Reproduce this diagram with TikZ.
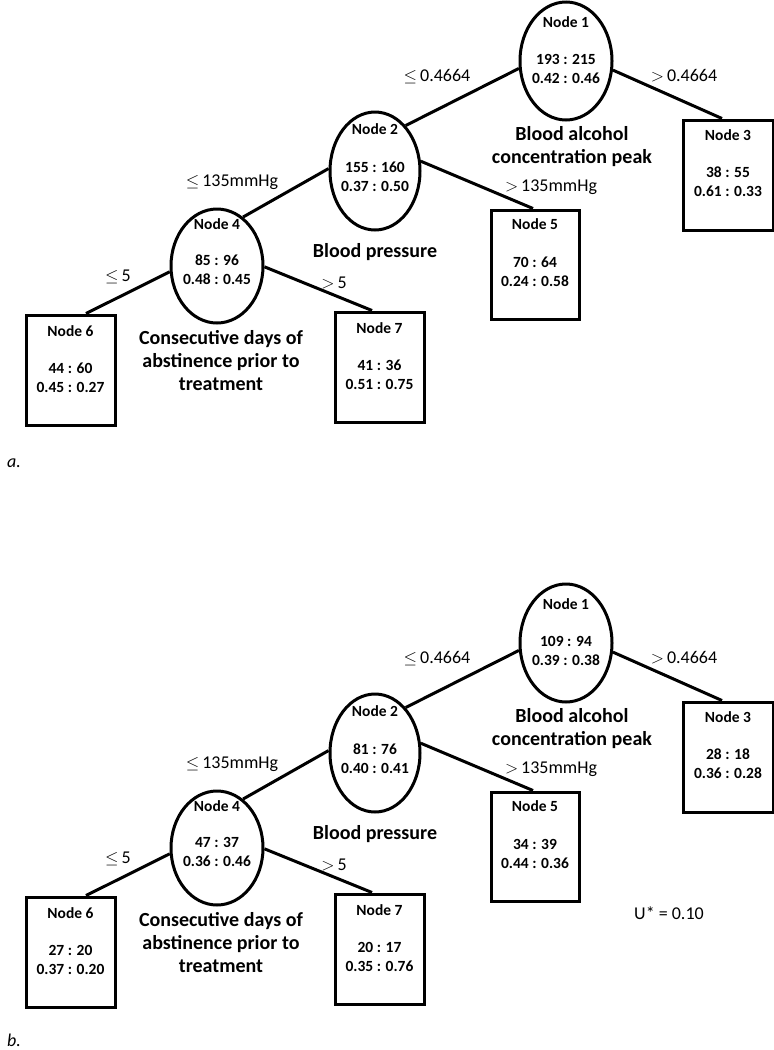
\documentclass[tikz,border=0pt]{standalone}
\usepackage{fontspec}
\setmainfont{Carlito}
\usetikzlibrary{shapes.geometric,calc}
\tikzset{
  ell/.style={ellipse,draw,line width=3pt,inner sep=0pt},
  box/.style={rectangle,draw,line width=3pt,inner sep=0pt},
  ntext/.style={inner sep=0pt,align=center,font=\fontsize{15.5}{19}\selectfont\bfseries},
  vtext/.style={inner sep=0pt,align=center,font=\fontsize{20}{23}\selectfont\bfseries},
  etext/.style={inner sep=0pt,font=\fontsize{18}{22}\selectfont},
  conn/.style={line width=3pt},
}
\newcommand\tnode[8]{%
  \node[#2] (#1) at (#3,#4) {};
  \node[ntext] (#1t) at (#3,#6) {#5};
  \node[ntext] (#1n) at (#3,#8) {#7};}
\newcommand\edges[1]{%
  \draw[conn] (#11.189) -- (#12.56);
  \draw[conn] (#11.-11) -- ($(#13.north)+(-6,0)$);
  \draw[conn] (#12.177) -- (#14.62);
  \draw[conn] (#12.12) -- ($(#15.north)+(-2,0)$);
  \draw[conn] (#14.187) -- ($(#16.north)+(15.5,0)$);
  \draw[conn] (#14.-1) -- ($(#17.north)+(-7.5,0)$);
  \node[etext] (#1l1) at (437,77) {$\leq$\,0.4664};
  \node[etext] (#1l2) at (684,76) {$>$\,0.4664};
  \node[etext] (#1l3) at (232,182) {$\leq$\,135mmHg};
  \node[etext] (#1l4) at (551,187) {$>$\,135mmHg};
  \node[etext] (#1l5) at (118,277) {$\leq$\,5};
  \node[etext] (#1l6) at (334,283) {$>$\,5};
  \node[vtext] (#1v1) at (572,146.5) {Blood alcohol\\concentration peak};
  \node[vtext] (#1v2) at (375,252) {Blood pressure};
  \node[vtext] (#1v3) at (221,361) {Consecutive days of\\abstinence prior to\\treatment};}
\begin{document}
\begin{tikzpicture}[x=1pt,y=-1pt]
\useasboundingbox (0,0) rectangle (774,1050);
% panel a
\tnode{a1}{ell,minimum width=92pt,minimum height=118pt}{566}{61}{Node 1}{22}{193 : 215\\0.42 : 0.46}{68.5}
\tnode{a2}{ell,minimum width=90pt,minimum height=118pt}{375}{171}{Node 2}{129}{155 : 160\\0.37 : 0.50}{176.5}
\tnode{a4}{ell,minimum width=92pt,minimum height=114pt}{217}{266}{Node 4}{224}{85 : 96\\0.48 : 0.45}{270}
\tnode{a3}{box,minimum width=90pt,minimum height=110pt}{728}{175}{Node 3}{135}{38 : 55\\0.61 : 0.33}{182}
\tnode{a5}{box,minimum width=88pt,minimum height=109pt}{535}{264.5}{Node 5}{224}{70 : 64\\0.24 : 0.58}{272}
\tnode{a6}{box,minimum width=89pt,minimum height=110pt}{70.5}{370}{Node 6}{331}{44 : 60\\0.45 : 0.27}{377.5}
\tnode{a7}{box,minimum width=89pt,minimum height=110pt}{379.5}{367}{Node 7}{328}{41 : 36\\0.51 : 0.75}{375}
\edges{a}
\node[etext,font=\fontsize{18}{22}\selectfont\itshape] (alab) at (14,463) {a.};
% panel b
\begin{scope}[shift={(0,582)}]
\tnode{b1}{ell,minimum width=92pt,minimum height=118pt}{566}{61}{Node 1}{22}{109 : 94\\0.39 : 0.38}{68.5}
\tnode{b2}{ell,minimum width=90pt,minimum height=118pt}{375}{171}{Node 2}{129}{81 : 76\\0.40 : 0.41}{176.5}
\tnode{b4}{ell,minimum width=92pt,minimum height=114pt}{217}{266}{Node 4}{224}{47 : 37\\0.36 : 0.46}{270}
\tnode{b3}{box,minimum width=90pt,minimum height=110pt}{728}{175}{Node 3}{135}{28 : 18\\0.36 : 0.28}{182}
\tnode{b5}{box,minimum width=88pt,minimum height=109pt}{535}{264.5}{Node 5}{224}{34 : 39\\0.44 : 0.36}{272}
\tnode{b6}{box,minimum width=89pt,minimum height=110pt}{70.5}{370}{Node 6}{331}{27 : 20\\0.37 : 0.20}{377.5}
\tnode{b7}{box,minimum width=89pt,minimum height=110pt}{379.5}{367}{Node 7}{328}{20 : 17\\0.35 : 0.76}{375}
\edges{b}
\node[etext] (ustar) at (669,331) {U* = 0.10};
\node[etext,font=\fontsize{18}{22}\selectfont\itshape] (blab) at (14,458) {b.};
\end{scope}
\end{tikzpicture}
\end{document}
